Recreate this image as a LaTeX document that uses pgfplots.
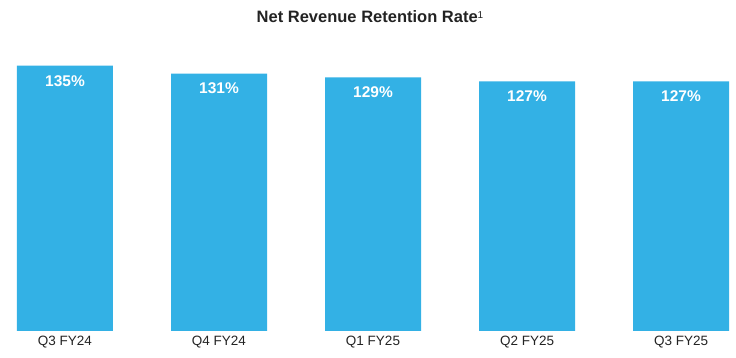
\documentclass[border=0pt]{standalone}
\usepackage{pgfplots}
\pgfplotsset{compat=1.18}
\usepackage{fontspec}
\setmainfont{Liberation Sans}
\definecolor{barblue}{RGB}{51,177,229}
\definecolor{titlegray}{RGB}{35,35,35}
\begin{document}
\begin{tikzpicture}
\useasboundingbox (0,-27pt) rectangle (736pt,331pt);
\begin{axis}[
  at={(0,0)}, anchor=south west,
  scale only axis,
  width=736pt, height=271pt,
  xmin=-0.422, xmax=4.357,
  ymin=0, ymax=137.9,
  hide y axis,
  axis x line*=bottom,
  x axis line style={draw=none},
  major tick length=0pt,
  xtick=data,
  xticklabels={Q3 FY24,Q4 FY24,Q1 FY25,Q2 FY25,Q3 FY25},
  xticklabel style={font=\fontsize{13.5}{16}\selectfont, text=titlegray, yshift=-2pt},
  /pgf/number format/assume math mode=true,
  clip=false,
]
\addplot[ybar, bar width=96pt, fill=barblue, draw=none,
  nodes near coords={\pgfmathprintnumber{\pgfplotspointmeta}\%},
  every node near coord/.append style={anchor=north, yshift=-6pt, text=white, font=\fontsize{15.5}{18}\selectfont\bfseries}]
  coordinates {(0,135) (1,131) (2,129) (3,127) (4,127)};
\end{axis}
\node[font=\fontsize{16.5}{19}\selectfont\bfseries, text=titlegray] at (370pt,314pt) {Net Revenue Retention Rate\raisebox{0.55ex}{\fontsize{10}{12}\selectfont\mdseries 1}};
\end{tikzpicture}
\end{document}
